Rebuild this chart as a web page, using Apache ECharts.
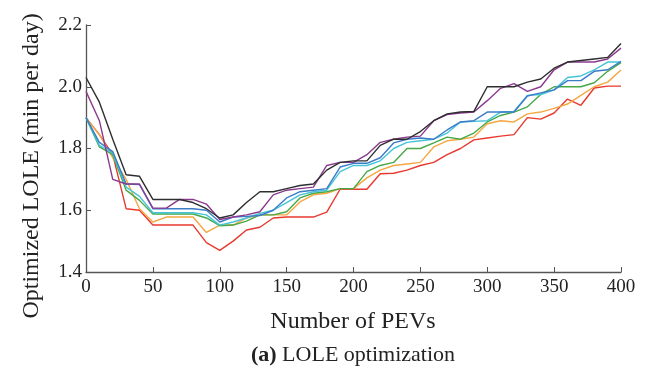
<!DOCTYPE html>
<html>
<head>
<meta charset="utf-8">
<script src="https://cdn.jsdelivr.net/npm/echarts@6/dist/echarts.min.js"></script>
<style>html,body{margin:0;padding:0;background:#fff;}#c{width:646px;height:377px;}</style>
</head>
<body>
<div id="c"></div>
<script>
const pevs = [0,10,20,30,40,50,60,70,80,90,100,110,120,130,140,150,160,170,180,190,200,210,220,230,240,250,260,270,280,290,300,310,320,330,340,350,360,370,380,390,400];
const xTicks = [0,50,100,150,200,250,300,350,400];
const yTicks = [1.4,1.6,1.8,2.0,2.2];

const sBlack  = [2.03,1.95,1.83,1.715,1.71,1.635,1.635,1.635,1.625,1.605,1.575,1.585,1.625,1.66,1.66,1.67,1.68,1.685,1.73,1.755,1.76,1.76,1.81,1.83,1.83,1.855,1.89,1.912,1.918,1.92,2.0,2.0,2.0,2.015,2.025,2.06,2.08,2.085,2.09,2.095,2.14];
const sPurple = [1.985,1.89,1.70,1.685,1.685,1.607,1.607,1.635,1.635,1.62,1.57,1.578,1.585,1.595,1.65,1.665,1.67,1.675,1.745,1.755,1.755,1.78,1.82,1.83,1.837,1.84,1.89,1.91,1.915,1.918,1.955,1.995,2.01,1.985,2.0,2.055,2.08,2.08,2.08,2.09,2.125];
const sBlue   = [1.90,1.82,1.79,1.685,1.683,1.605,1.605,1.605,1.605,1.60,1.562,1.578,1.58,1.583,1.60,1.64,1.66,1.665,1.67,1.74,1.752,1.752,1.77,1.818,1.83,1.834,1.83,1.86,1.886,1.89,1.918,1.918,1.918,1.97,1.98,1.99,2.02,2.02,2.05,2.055,2.082];
const sCyan   = [1.90,1.81,1.785,1.675,1.645,1.592,1.592,1.592,1.592,1.585,1.552,1.562,1.575,1.59,1.60,1.625,1.65,1.66,1.665,1.725,1.745,1.745,1.76,1.80,1.82,1.825,1.83,1.85,1.886,1.888,1.89,1.918,1.92,1.972,1.975,1.99,2.03,2.035,2.055,2.08,2.08];
const sGreen  = [1.90,1.805,1.78,1.665,1.632,1.588,1.588,1.588,1.588,1.575,1.55,1.552,1.565,1.585,1.585,1.595,1.64,1.655,1.66,1.67,1.67,1.725,1.745,1.755,1.80,1.80,1.818,1.837,1.83,1.85,1.886,1.907,1.918,1.935,1.975,2.0,2.0,2.0,2.013,2.05,2.078];
const sOrange = [1.90,1.845,1.77,1.70,1.605,1.562,1.578,1.578,1.578,1.528,1.552,1.552,1.575,1.585,1.585,1.585,1.627,1.65,1.655,1.67,1.67,1.705,1.73,1.745,1.75,1.755,1.805,1.825,1.83,1.837,1.88,1.89,1.886,1.912,1.918,1.93,1.944,1.972,2.0,2.015,2.054];
const sRed    = [1.90,1.845,1.78,1.605,1.60,1.552,1.552,1.552,1.552,1.495,1.47,1.50,1.536,1.545,1.575,1.578,1.578,1.578,1.594,1.668,1.668,1.668,1.718,1.72,1.73,1.745,1.755,1.78,1.80,1.828,1.834,1.84,1.845,1.90,1.895,1.915,1.96,1.94,1.996,2.002,2.002];

const seriesDefs = [
  {name:'s1', data:sRed,    color:'#e8392e'},
  {name:'s2', data:sOrange, color:'#f5a742'},
  {name:'s3', data:sGreen,  color:'#47a847'},
  {name:'s4', data:sCyan,   color:'#45c4d9'},
  {name:'s5', data:sBlue,   color:'#3a7cc8'},
  {name:'s6', data:sPurple, color:'#8c3a8e'},
  {name:'s7', data:sBlack,  color:'#2e2e2e'}
];

const font = '"Liberation Serif", "DejaVu Serif", serif';
const chart = echarts.init(document.getElementById('c'), null, {renderer:'canvas'});
chart.setOption({
  animation:false,
  backgroundColor:'#fff',
  grid:{left:86, right:25, top:25, bottom:105, containLabel:false},
  xAxis:{
    type:'value', min:0, max:400, interval:50,
    axisLine:{show:true, lineStyle:{color:'#555', width:1.3}},
    axisTick:{show:true, inside:true, length:5, lineStyle:{color:'#555'}},
    axisLabel:{color:'#222', fontFamily:font, fontSize:19, margin:6,
      formatter:function(v){return xTicks.indexOf(v)>=0 ? String(v) : '';}},
    splitLine:{show:false}
  },
  yAxis:{
    type:'value', min:1.4, max:2.2, interval:0.2,
    axisLine:{show:true, lineStyle:{color:'#555', width:1.3}},
    axisTick:{show:true, inside:true, length:5, lineStyle:{color:'#555'}},
    axisLabel:{color:'#222', fontFamily:font, fontSize:19, margin:4,
      formatter:function(v){
        for (const t of yTicks){ if (Math.abs(t-v)<1e-6) return t.toFixed(1); }
        return '';
      }},
    splitLine:{show:false}
  },
  graphic:[
    {type:'text', x:32, y:166, rotation:Math.PI/2,
      style:{text:'Optimized LOLE (min per day)', fill:'#222', font:'24px '+font, textAlign:'center', textVerticalAlign:'middle'}},
    {type:'text', x:353, y:322,
      style:{text:'Number of PEVs', fill:'#222', font:'24px '+font, textAlign:'center', textVerticalAlign:'middle'}},
    {type:'text', x:353, y:355,
      style:{text:'{b|(a)} LOLE optimization', fill:'#222', font:'22px '+font, textAlign:'center', textVerticalAlign:'middle',
        rich:{b:{fontWeight:'bold', fontFamily:font, fontSize:22, fill:'#222'}}}}
  ],
  series: seriesDefs.map(function(s){
    return {
      name:s.name, type:'line', showSymbol:false, symbol:'none',
      lineStyle:{color:s.color, width:1.4},
      data: pevs.map(function(p,i){return [p, s.data[i]];})
    };
  })
});
</script>
</body>
</html>
